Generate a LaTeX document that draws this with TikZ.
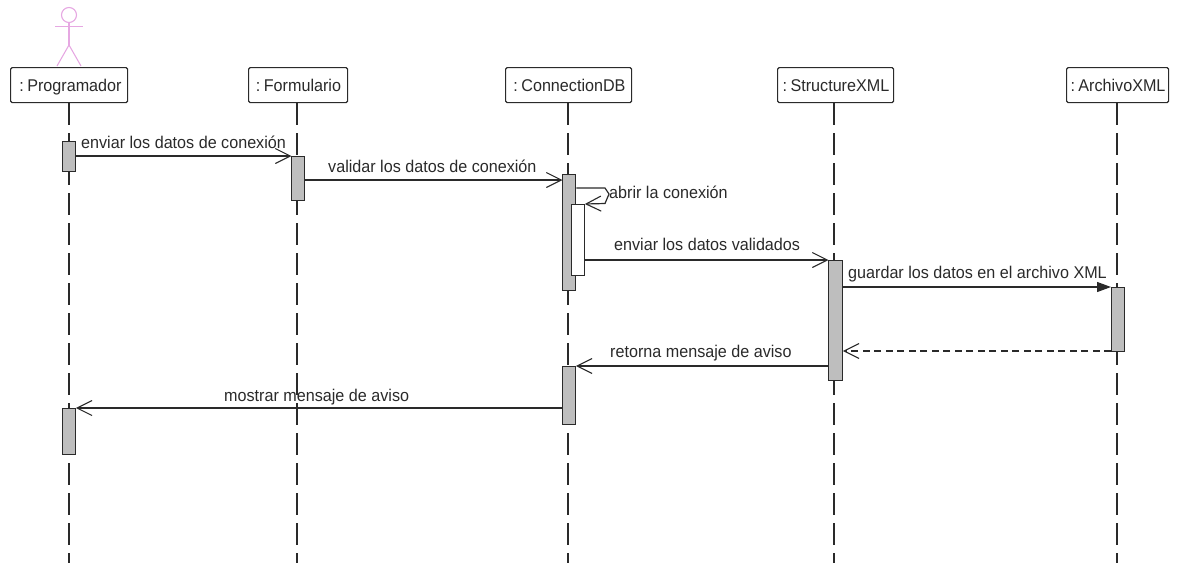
\documentclass[tikz,border=0pt]{standalone}
\usepackage{fontspec}
\setmainfont[FakeStretch=0.95]{Liberation Sans}
\usetikzlibrary{arrows.meta}
\definecolor{ink}{HTML}{2A2A2A}
\definecolor{bar}{HTML}{BEBEBE}
\definecolor{actorpink}{HTML}{E6A8E2}
\tikzset{
  x=1pt,y=-1pt,
  every node/.style={font=\fontsize{17}{20}\selectfont,text=ink},
  objbox/.style={draw=ink,line width=1.2pt,fill=white,rounded corners=1.5pt,inner sep=0pt,anchor=north west},
  objtext/.style={anchor=base,inner sep=0pt},
  lifeline/.style={draw=ink,line width=1.1pt,dash pattern=on 22pt off 8pt},
  activation/.style={draw=ink,line width=1.3pt,fill=bar,inner sep=0pt,anchor=north west},
  innerbar/.style={activation,fill=white},
  msg/.style={draw=ink,line width=1.2pt,shorten >=-0.5pt,-{Straight Barb[length=15pt,width=15pt,line width=1.1pt]}},
  syncmsg/.style={draw=ink,line width=1.2pt,-{Triangle[length=14pt,width=10pt]}},
  retmsg/.style={msg,dash pattern=on 7pt off 4.5pt},
  lbl/.style={anchor=base west,inner sep=0pt},
  actorline/.style={draw=actorpink,line width=1.1pt}
}
\newcommand{\objlabel}[1]{:\hspace{0.2em}#1}
\begin{document}
\begin{tikzpicture}
\useasboundingbox (0,0) rectangle (1177,563);
% objects
\node[objbox,minimum width=117pt,minimum height=35pt] (P) at (10,67) {};
\node[objbox,minimum width=99pt,minimum height=35pt] (F) at (248,67) {};
\node[objbox,minimum width=126pt,minimum height=35pt] (C) at (505,67) {};
\node[objbox,minimum width=116pt,minimum height=35pt] (S) at (777,67) {};
\node[objbox,minimum width=102pt,minimum height=35pt] (A) at (1066,67) {};
\node[objtext] (Pt) at (70.5,91.5) {\objlabel{Programador}};
\node[objtext] (Ft) at (298.5,91.5) {\objlabel{Formulario}};
\node[objtext] (Ct) at (569.5,91.5) {\objlabel{ConnectionDB}};
\node[objtext] (St) at (836,91.5) {\objlabel{StructureXML}};
\node[objtext] (At) at (1118,91.5) {\objlabel{ArchivoXML}};
% lifelines
\coordinate (Pe) at (69,563);
\coordinate (Fe) at (297,563);
\coordinate (Ce) at (568,563);
\coordinate (Se) at (834,563);
\coordinate (Ae) at (1117,563);
\draw[lifeline] (Pe |- P.south) -- (Pe);
\draw[lifeline] (Fe |- F.south) -- (Fe);
\draw[lifeline] (Ce |- C.south) -- (Ce);
\draw[lifeline] (Se |- S.south) -- (Se);
\draw[lifeline] (Ae |- A.south) -- (Ae);
% actor
\node[circle,actorline,minimum size=15pt,inner sep=0pt] (head) at (69,15) {};
\coordinate (armL) at (55,26.5);
\coordinate (armR) at (83,26.5);
\coordinate (hip) at (69,45);
\coordinate (legL) at (57,66);
\coordinate (legR) at (81,66);
\draw[actorline] (armL) -- (armR);
\draw[actorline] (head.south) -- (hip);
\draw[actorline] (legL) -- (hip) -- (legR);
% activations
\node[activation,minimum width=13pt,minimum height=30pt] (p1) at (62,141) {};
\node[activation,minimum width=13pt,minimum height=44pt] (f1) at (291,156) {};
\node[activation,minimum width=13pt,minimum height=116pt] (c1) at (562,174) {};
\node[innerbar,minimum width=13pt,minimum height=71pt] (c2) at (571,204) {};
\node[activation,minimum width=14pt,minimum height=120pt] (s1) at (828,260) {};
\node[activation,minimum width=13pt,minimum height=64pt] (a1) at (1111,287) {};
\node[activation,minimum width=13pt,minimum height=58pt] (c3) at (562,366) {};
\node[activation,minimum width=13pt,minimum height=46pt] (p2) at (62,408) {};
% messages
\coordinate (y1) at (0,156);
\coordinate (y2) at (0,180);
\coordinate (y3a) at (0,188);
\coordinate (y3b) at (0,204);
\coordinate (y4) at (0,260);
\coordinate (y5) at (0,287);
\coordinate (y6) at (0,351);
\coordinate (y7) at (0,366);
\coordinate (y8) at (0,408);
\coordinate (k1) at (605,188);
\coordinate (k2) at (609,194);
\coordinate (k3) at (605,203.5);
\draw[msg] (p1.east |- y1) -- (f1.west |- y1);
\draw[msg] (f1.east |- y2) -- (c1.west |- y2);
\draw[msg] (c1.east |- y3a) -- (k1) -- (k2) -- (k3) -- (c2.east |- y3b);
\draw[msg] (c2.east |- y4) -- (s1.west |- y4);
\draw[syncmsg] (s1.east |- y5) -- (a1.west |- y5);
\draw[retmsg] (a1.west |- y6) -- (s1.east |- y6);
\draw[msg] (s1.west |- y7) -- (c3.east |- y7);
\draw[msg] (c3.west |- y8) -- (p2.east |- y8);
% labels
\node[lbl] (t1) at (81,148) {enviar los datos de conexión};
\node[lbl] (t2) at (328,172) {validar los datos de conexión};
\node[lbl] (t3) at (609,198) {abrir la conexión};
\node[lbl] (t4) at (614,250) {enviar los datos validados};
\node[lbl] (t5) at (848,278) {guardar los datos en el archivo XML};
\node[lbl] (t6) at (610,357) {retorna mensaje de aviso};
\node[lbl] (t7) at (224,401) {mostrar mensaje de aviso};
\end{tikzpicture}
\end{document}
